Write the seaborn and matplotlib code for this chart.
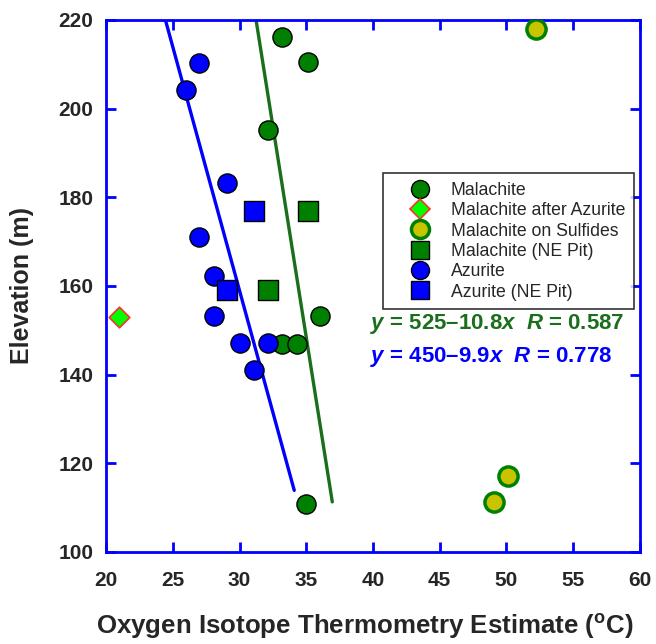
import numpy as np
import pandas as pd
import seaborn as sns
import matplotlib.pyplot as plt
from matplotlib.lines import Line2D

sns.set_style("white")
plt.rcParams['font.family'] = ['Liberation Sans', 'DejaVu Sans']
plt.rcParams['mathtext.fontset'] = 'custom'
plt.rcParams['mathtext.rm'] = 'Liberation Sans:bold'
plt.rcParams['mathtext.it'] = 'Liberation Sans:italic:bold'
plt.rcParams['mathtext.bf'] = 'Liberation Sans:bold'

# values
mal_t = [33.2, 35.1, 32.1, 36.0, 33.2, 34.3, 35.0]
mal_z = [216.2, 210.5, 195.2, 153.2, 147.0, 147.0, 110.8]
mal_az_t = [21.0]
mal_az_z = [153.0]
mal_sulf_t = [52.2, 50.1, 49.1]
mal_sulf_z = [218.0, 117.1, 111.2]
mal_ne_t = [35.1, 32.1]
mal_ne_z = [176.9, 159.0]
az_t = [27.0, 26.0, 29.1, 27.0, 28.1, 28.1, 30.0, 32.1, 31.1]
az_z = [210.3, 204.2, 183.2, 171.0, 162.2, 153.2, 147.1, 147.1, 141.0]
az_ne_t = [31.1, 29.1]
az_ne_z = [176.9, 159.0]

# fit line end points
mal_fit_t = [31.24, 36.95]
mal_fit_z = [220.0, 111.3]
az_fit_t = [24.45, 34.1]
az_fit_z = [220.0, 113.9]

green = '#008000'
blue = '#0000ff'
line_green = '#1b6e1b'

fig = plt.figure(figsize=(6.56, 6.44), dpi=100)
ax = fig.add_axes([0.1616, 0.1429, 0.8140, 0.8261])

sns.lineplot(x=mal_fit_t, y=mal_fit_z, color=line_green, lw=2.4, ax=ax, sort=False)
sns.lineplot(x=az_fit_t, y=az_fit_z, color=blue, lw=2.4, ax=ax, sort=False)

s = 190
groups = [
    (mal_t, mal_z, 'o', green, 'black', 1.0, s, 'Malachite'),
    (mal_az_t, mal_az_z, 'D', '#00ff00', '#ff3030', 1.2, 110, 'Malachite after Azurite'),
    (mal_sulf_t, mal_sulf_z, 'o', '#c8c400', green, 2.5, s, 'Malachite on Sulfides'),
    (mal_ne_t, mal_ne_z, 's', green, 'black', 1.0, s, 'Malachite (NE Pit)'),
    (az_t, az_z, 'o', blue, 'black', 1.0, s, 'Azurite'),
    (az_ne_t, az_ne_z, 's', blue, 'black', 1.0, s, 'Azurite (NE Pit)'),
]
handles = []
for t, z, m, fc, ec, lw, size, lab in groups:
    sns.scatterplot(x=t, y=z, marker=m, color=fc, edgecolor=ec, linewidth=lw,
                    s=size, ax=ax, zorder=3, legend=False)
    ms = 13 if m != 'D' else 10
    handles.append(Line2D([], [], ls='none', marker=m, markerfacecolor=fc,
                          markeredgecolor=ec, markeredgewidth=lw, markersize=ms, label=lab))

ax.set_xlim(20, 60)
ax.set_ylim(100, 220)
ax.set_xticks(np.arange(20, 61, 5))
ax.set_yticks(np.arange(100, 221, 20))
for sp in ax.spines.values():
    sp.set_color(blue)
    sp.set_linewidth(2)
ax.tick_params(direction='in', length=7, width=2, color=blue, top=True, right=True,
               bottom=True, left=True, labelsize=15)
ax.tick_params(axis='x', pad=14)
ax.tick_params(axis='y', pad=9)
for lbl in ax.get_xticklabels() + ax.get_yticklabels():
    lbl.set_fontweight('bold')

ax.set_xlabel(r'Oxygen Isotope Thermometry Estimate ($^{\rm o}$C)', fontsize=18.6,
              fontweight='bold')
ax.xaxis.set_label_coords(0.484, -0.112)
ax.set_ylabel('Elevation (m)', fontsize=18, fontweight='bold', labelpad=18)

leg = ax.legend(handles=handles, loc='upper left', bbox_to_anchor=(383 / 656, 1 - 173 / 644),
                bbox_transform=fig.transFigure, borderaxespad=0,
                fontsize=12.7, frameon=True, fancybox=False, handletextpad=0.15,
                labelspacing=0.19, borderpad=0.5, handlelength=3.2)
leg.get_frame().set_edgecolor('black')
leg.get_frame().set_linewidth(1.2)

ax.text(39.8, 151.5, r'$y$ = 525–10.8$x$  $R$ = 0.587', color=line_green,
        fontsize=16, fontweight='bold', va='center')
ax.text(39.8, 144.0, r'$y$ = 450–9.9$x$  $R$ = 0.778', color=blue,
        fontsize=16, fontweight='bold', va='center')

fig.savefig('out.png', dpi=100)
